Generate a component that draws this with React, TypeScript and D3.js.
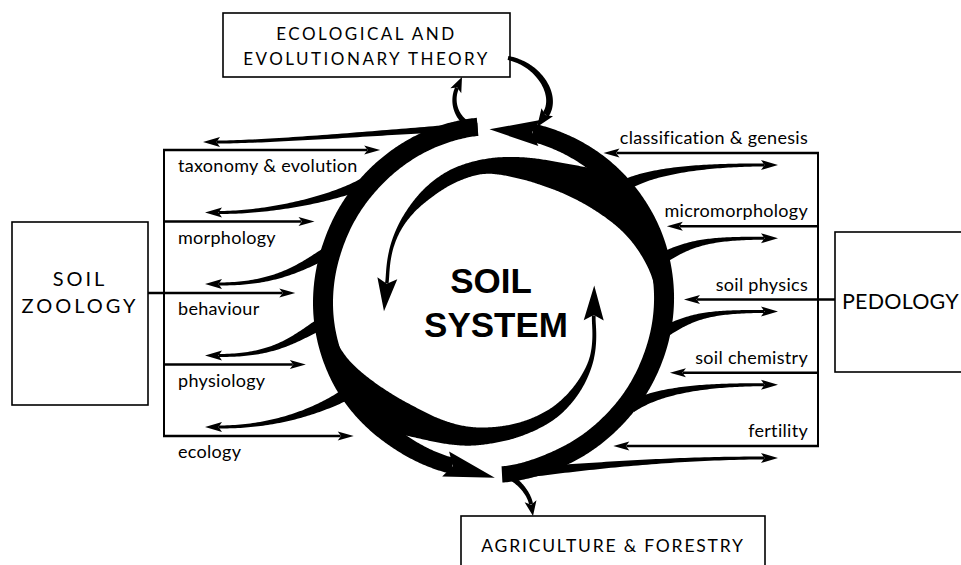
import React from "react";
import * as d3 from "d3";

// subjects feeding the soil system, top to bottom
const zoologyTopics = ["taxonomy & evolution", "morphology", "behaviour", "physiology", "ecology"];
const pedologyTopics = ["classification & genesis", "micromorphology", "soil physics", "soil chemistry", "fertility"];
const centreLabel = ["SOIL", "SYSTEM"];
const theoryLabel = ["ECOLOGICAL AND", "EVOLUTIONARY THEORY"];
const zoologyLabel = ["SOIL", "ZOOLOGY"];
const pedologyLabel = ["PEDOLOGY"];
const appliedLabel = ["AGRICULTURE & FORESTRY"];

type Pt = [number, number];

const width = 961;
const height = 565;
const cx = 493;
const cy = 303;
const R = 180;
const sans = "Lato, 'Open Sans', sans-serif";
const bold = "'Liberation Sans', Arial, sans-serif";

// ring bands as polar knots: [angle deg, outer radius, inner radius]
const leftArcKnots = [[-95, 186, 168], [-110, 185, 166], [-135, 182, 162], [-160, 180, 160], [-185, 180, 160], [-210, 179, 159], [-235, 176, 158], [-256, 176, 160]];
const rightArcKnots = [[87, 180, 164], [70, 178, 160], [45, 177.5, 158.5], [20, 179, 159], [0, 181, 161], [-25, 183, 163], [-50, 184, 164], [-77, 184, 166]];
const upperSwirlKnots = [[4, 171, 166], [-10, 172, 161], [-25, 172, 151], [-40, 172, 139], [-50, 172, 133], [-55, 165, 131], [-60, 159, 129], [-68, 153, 127], [-80, 148, 127], [-94, 144, 130], [-108, 140, 126], [-120, 134, 122], [-132, 127, 120], [-142, 122, 117.5], [-152, 117, 113.5], [-161, 112.5, 109], [-169.5, 109, 105.5]];
const lowerSwirlKnots = [[172, 170, 165], [160, 170, 157], [150, 169, 146], [140, 168, 137], [130, 167, 131], [125, 160, 129], [119, 154, 128], [110, 149, 127], [100, 145, 126], [90, 140, 124], [75, 135, 122], [60, 131, 120], [45, 124, 116], [30, 116, 111.5], [18, 108.5, 104.5], [11, 104.5, 100.5], [7, 102.5, 99]];

const yLeft = d3.scalePoint<string>().domain(zoologyTopics).range([150, 436]);
const yRight = d3.scalePoint<string>().domain(pedologyTopics).range([153, 446]);

const toRad = (d: number) => (d * Math.PI) / 180;
const polar = (deg: number, r: number): Pt => [cx + r * Math.cos(toRad(deg)), cy + r * Math.sin(toRad(deg))];
const ringX = (y: number, side: number) => cx + side * Math.sqrt(Math.max(0, R * R - (y - cy) ** 2));
const line = d3.line<Pt>();
const closed = (pts: Pt[]) => line(pts) + "Z";
const unit = (a: Pt, b: Pt): Pt => {
  const l = Math.hypot(b[0] - a[0], b[1] - a[1]);
  return [(b[0] - a[0]) / l, (b[1] - a[1]) / l];
};
const turn = (d: Pt, deg: number): Pt => {
  const c = Math.cos(toRad(deg)), s = Math.sin(toRad(deg));
  return [d[0] * c - d[1] * s, d[0] * s + d[1] * c];
};

// three box passes, clamped at the ends
function smooth(vals: number[], rad: number) {
  let a = vals;
  for (let pass = 0; pass < 3; pass++) {
    const src = a;
    a = src.map((_, i) => {
      let s = 0;
      for (let j = -rad; j <= rad; j++) s += src[Math.min(src.length - 1, Math.max(0, i + j))];
      return s / (2 * rad + 1);
    });
  }
  return a;
}

function polarBand(knots: number[][]) {
  const deg = knots.map((k) => k[0]);
  const oS = d3.scaleLinear().domain(deg).range(knots.map((k) => k[1]));
  const iS = d3.scaleLinear().domain(deg).range(knots.map((k) => k[2]));
  const a0 = deg[0];
  const a1 = deg[deg.length - 1];
  const n = Math.ceil(Math.abs(a1 - a0) * 2);
  const angles = d3.range(n + 1).map((i) => a0 + ((a1 - a0) * i) / n);
  const os = smooth(angles.map((a) => oS(a)), 6);
  const is = smooth(angles.map((a) => iS(a)), 6);
  const outer = angles.map((a, i) => polar(a, os[i]));
  const inner = angles.map((a, i) => polar(a, is[i]));
  const mid = angles.map((a, i) => polar(a, (os[i] + is[i]) / 2));
  return { d: closed([...outer, ...inner.reverse()]), end: mid[n], dir: unit(mid[n - 4], mid[n]) };
}

function cubicBand(p0: Pt, p1: Pt, p2: Pt, p3: Pt, w0: number, w1: number) {
  const n = 60;
  const left: Pt[] = [];
  const right: Pt[] = [];
  for (let i = 0; i <= n; i++) {
    const t = i / n;
    const u = 1 - t;
    const x = u * u * u * p0[0] + 3 * u * u * t * p1[0] + 3 * u * t * t * p2[0] + t * t * t * p3[0];
    const y = u * u * u * p0[1] + 3 * u * u * t * p1[1] + 3 * u * t * t * p2[1] + t * t * t * p3[1];
    let dx = 3 * u * u * (p1[0] - p0[0]) + 6 * u * t * (p2[0] - p1[0]) + 3 * t * t * (p3[0] - p2[0]);
    let dy = 3 * u * u * (p1[1] - p0[1]) + 6 * u * t * (p2[1] - p1[1]) + 3 * t * t * (p3[1] - p2[1]);
    const l = Math.hypot(dx, dy) || 1;
    dx /= l;
    dy /= l;
    const w = w1 + (w0 - w1) * Math.pow(1 - t, 1.6);
    left.push([x - (dy * w) / 2, y + (dx * w) / 2]);
    right.push([x + (dy * w) / 2, y - (dx * w) / 2]);
  }
  return closed([...left, ...right.reverse()]);
}

function head(base: Pt, dir: Pt, len: number, half: number, sweep: number) {
  const nx = -dir[1];
  const ny = dir[0];
  const at = (f: number, s: number): Pt => [base[0] + dir[0] * f + nx * s, base[1] + dir[1] * f + ny * s];
  return closed([at(len, 0), at(-sweep, half), at(0.5, 0), at(-sweep, -half)]);
}

// tapered branch ending in an arrow whose tip sits at `tip`, pointing along `dir`
function branch(p0: Pt, d0: Pt, k0: number, tip: Pt, dir: Pt, k1: number, w0: number, w1: number, hl: number, hw: number) {
  const base: Pt = [tip[0] - dir[0] * hl, tip[1] - dir[1] * hl];
  const p1: Pt = [p0[0] + d0[0] * k0, p0[1] + d0[1] * k0];
  const p2: Pt = [base[0] - dir[0] * k1, base[1] - dir[1] * k1];
  return [cubicBand(p0, p1, p2, base, w0, w1), head(base, dir, hl, hw, 3)];
}

function arrowLine(x0: number, x1: number, y: number, key: string) {
  const dir: Pt = [Math.sign(x1 - x0), 0];
  const hl = 13;
  return (
    <g key={key}>
      <line x1={x0} y1={y} x2={x1 - dir[0] * hl} y2={y} stroke="#000" strokeWidth={2.4} />
      <path d={head([x1 - dir[0] * hl, y], dir, hl, 4.5, 3)} fill="#000" />
    </g>
  );
}

export default function App() {
  const leftArc = polarBand(leftArcKnots);
  const rightArc = polarBand(rightArcKnots);
  const upper = polarBand(upperSwirlKnots);
  const lower = polarBand(lowerSwirlKnots);

  const shapes: string[] = [leftArc.d, rightArc.d, upper.d, lower.d];
  shapes.push(head(leftArc.end, leftArc.dir, 44, 13, 7));
  shapes.push(head(rightArc.end, turn(rightArc.dir, -10), 43, 13, 7));
  shapes.push(head(upper.end, upper.dir, 28, 10, 5));
  shapes.push(head(lower.end, lower.dir, 30, 10, 5));

  // branches off the left arc towards soil zoology
  const leftTip = 205;
  const topJunction = polar(-95, 177);
  shapes.push(...branch(topJunction, [-1, 0.05], 60, [leftTip - 2, yLeft(zoologyTopics[0])! - 8], [-1, 0], 60, 8, 3, 14, 5));
  zoologyTopics.slice(1).forEach((t) => {
    const y0 = yLeft(t)! - 42;
    const p0: Pt = [ringX(y0, -1) + 9, y0];
    shapes.push(...branch(p0, [-0.866, 0.5], 35, [leftTip, yLeft(t)! - 9], [-1, 0], 55, 12, 3, 14, 5));
  });

  // branches off the right arc towards pedology
  const rightTip = 778;
  pedologyTopics.slice(0, 4).forEach((t) => {
    const y0 = yRight(t)! + 34;
    const p0: Pt = [ringX(y0, 1) - 9, y0];
    shapes.push(...branch(p0, [0.866, -0.5], 35, [rightTip, yRight(t)! + 12], [1, 0], 55, 12, 3, 14, 5));
  });
  const bottomJunction = polar(86, 172);
  const lastRight = pedologyTopics[pedologyTopics.length - 1];
  shapes.push(...branch(bottomJunction, [1, -0.1], 60, [rightTip, yRight(lastRight)! + 12], [1, 0], 100, 12, 3, 14, 5));

  // links to the two outer boxes
  const theoryBox = { x: 223, y: 13, w: 287, h: 64 };
  const appliedBox = { x: 461, y: 516, w: 304, h: 60 };
  shapes.push(...branch(polar(-97, 178), [-0.9, -0.45], 18, [462, theoryBox.y + theoryBox.h], unit([0, 0], [5, -11]), 14, 6, 4, 12, 6));
  shapes.push(...branch([theoryBox.x + theoryBox.w - 2, 58], [1, 0.2], 32, [537, 127], unit([0, 0], [-9, 13]), 22, 4, 7, 15, 7));
  shapes.push(...branch(bottomJunction, [1, 0.4], 14, [533, appliedBox.y], unit([0, 0], [1, 6]), 10, 6, 4, 12, 6));

  const zoologyBox = { x: 12, y: 222, w: 136, h: 183 };
  const pedologyBox = { x: 835, y: 232, w: 140, h: 140 };
  const leftRail = 164;
  const rightRail = 818;
  const midLeft = zoologyTopics[Math.floor(zoologyTopics.length / 2)];
  const midRight = pedologyTopics[Math.floor(pedologyTopics.length / 2)];

  return (
    <svg
      width={width}
      height={height}
      style={{ position: "absolute", left: 0, top: 0, background: "#fff" }}
    >
      <rect width={width} height={height} fill="#fff" />
      {shapes.map((d, i) => (
        <path key={i} d={d} fill="#000" />
      ))}

      {/* zoology rails */}
      <line x1={leftRail} x2={leftRail} y1={yLeft(zoologyTopics[0])} y2={yLeft(zoologyTopics[4])} stroke="#000" strokeWidth={2} />
      {zoologyTopics.map((t) =>
        arrowLine(t === midLeft ? zoologyBox.x + zoologyBox.w : leftRail - 1, ringX(yLeft(t)!, -1) - 18, yLeft(t)!, "l" + t)
      )}
      {zoologyTopics.map((t) => (
        <text key={t} x={178} y={yLeft(t)! + 22} fontFamily={sans} fontSize={18} letterSpacing={0.3}>
          {t}
        </text>
      ))}

      {/* pedology rails */}
      <line x1={rightRail} x2={rightRail} y1={yRight(pedologyTopics[0])} y2={yRight(pedologyTopics[4])} stroke="#000" strokeWidth={2} />
      {pedologyTopics.map((t) =>
        arrowLine(t === midRight ? pedologyBox.x : rightRail + 1, ringX(yRight(t)!, 1) + 11, yRight(t)!, "r" + t)
      )}
      {pedologyTopics.map((t) => (
        <text key={t} x={808} y={yRight(t)! - 9} fontFamily={sans} fontSize={18} letterSpacing={0.3} textAnchor="end">
          {t}
        </text>
      ))}

      {/* boxes */}
      <g fill="none" stroke="#000" strokeWidth={1.6}>
        <rect x={theoryBox.x} y={theoryBox.y} width={theoryBox.w} height={theoryBox.h} />
        <rect x={zoologyBox.x} y={zoologyBox.y} width={zoologyBox.w} height={zoologyBox.h} />
        <rect x={pedologyBox.x} y={pedologyBox.y} width={pedologyBox.w} height={pedologyBox.h} />
        <rect x={appliedBox.x} y={appliedBox.y} width={appliedBox.w} height={appliedBox.h} />
      </g>
      {theoryLabel.map((s, i) => (
        <text key={s} x={theoryBox.x + theoryBox.w / 2} y={40 + i * 25} textAnchor="middle" fontFamily={sans} fontSize={17} letterSpacing={2.5}>
          {s}
        </text>
      ))}
      {zoologyLabel.map((s, i) => (
        <text key={s} x={zoologyBox.x + zoologyBox.w / 2} y={286 + i * 27} textAnchor="middle" fontFamily={sans} fontSize={20} letterSpacing={3}>
          {s}
        </text>
      ))}
      {pedologyLabel.map((s) => (
        <text key={s} x={pedologyBox.x + 7} y={309} fontFamily={sans} fontSize={21.5} letterSpacing={0.2}>
          {s}
        </text>
      ))}
      {appliedLabel.map((s) => (
        <text key={s} x={appliedBox.x + appliedBox.w / 2} y={552} textAnchor="middle" fontFamily={sans} fontSize={17.5} letterSpacing={1.8}>
          {s}
        </text>
      ))}
      {centreLabel.map((s, i) => (
        <text key={s} x={491 + i * 5} y={293 + i * 44} textAnchor="middle" fontFamily={bold} fontWeight="bold" fontSize={35}>
          {s}
        </text>
      ))}
    </svg>
  );
}
